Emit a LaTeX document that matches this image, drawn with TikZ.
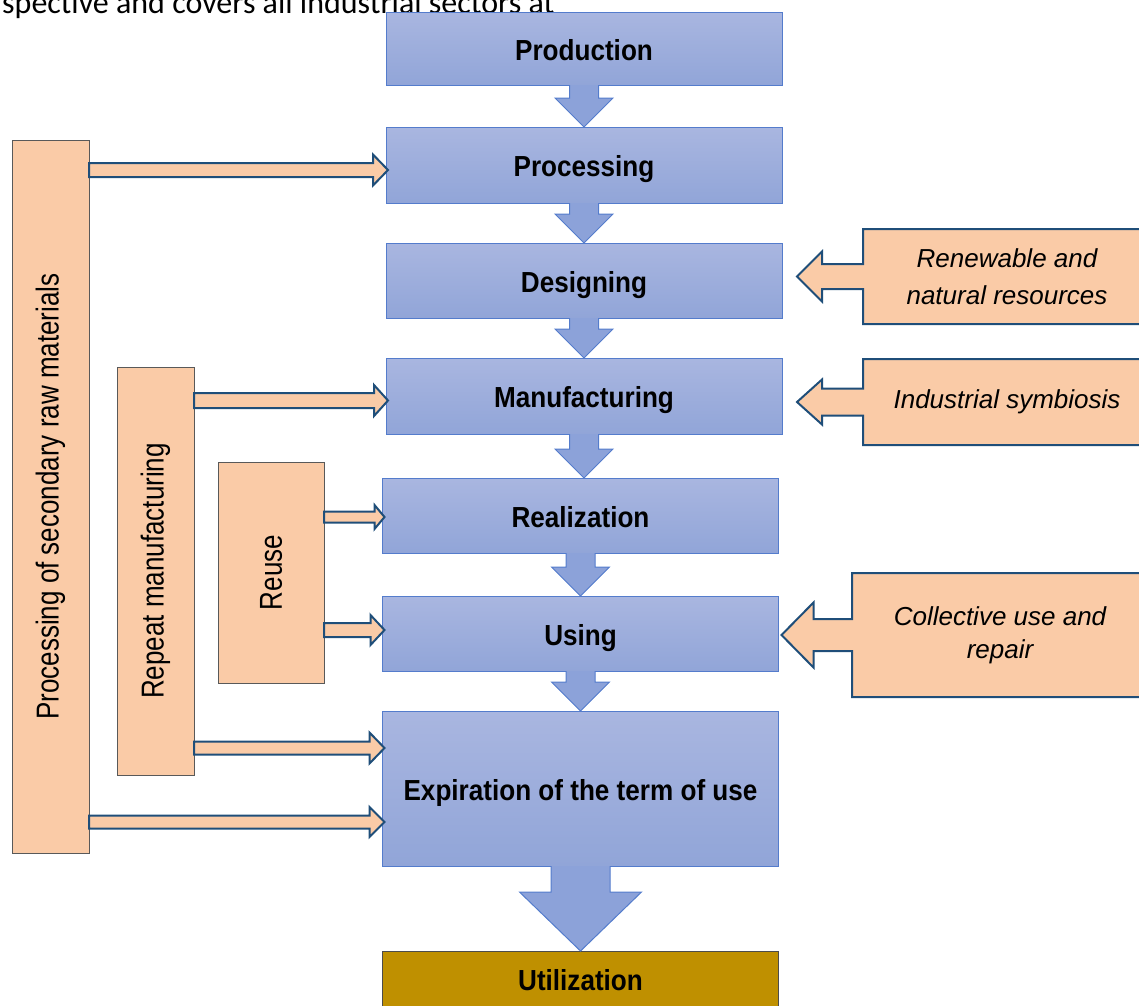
\documentclass[tikz,border=0pt]{standalone}
\usepackage{fontspec}
\setmainfont{Liberation Sans}
\newfontfamily\boxfont[FakeStretch=0.9]{Liberation Sans}
\newfontfamily\sidefont[FakeStretch=0.82]{Liberation Sans}
\newfontfamily\introfont{Carlito}
\usetikzlibrary{positioning, calc}

\definecolor{peach}{RGB}{250,203,167}
\definecolor{navyline}{RGB}{31,78,121}
\definecolor{boxtop}{RGB}{169,182,224}
\definecolor{boxbot}{RGB}{145,165,216}
\definecolor{boxedge}{RGB}{84,124,204}
\definecolor{flowfill}{RGB}{140,162,217}
\definecolor{gold}{RGB}{191,144,0}

% blue arrow between two stages
\newcommand{\flowarrow}[5]{%
  \draw[flow] let \p1=(#1.south), \p2=(#2.north) in
    ({\x1-#3},{\y1}) -- ({\x1-#3},{\y2+#5}) -- ({\x1-#4},{\y2+#5}) -- ({\x1},{\y2})
    -- ({\x1+#4},{\y2+#5}) -- ({\x1+#3},{\y2+#5}) -- ({\x1+#3},{\y1});
}
% orange arrow from a side box into a stage
\newcommand{\feedarrow}[6]{%
  \draw[feed] let \p1=(#1.east), \p2=(#2.west) in
    ({\x1},{\y2-(#3)+#4}) -- ({\x2+2pt-#6},{\y2-(#3)+#4}) -- ({\x2+2pt-#6},{\y2-(#3)+#5})
    -- ({\x2+2pt},{\y2-(#3)}) -- ({\x2+2pt-#6},{\y2-(#3)-#5}) -- ({\x2+2pt-#6},{\y2-(#3)-#4})
    -- ({\x1},{\y2-(#3)-#4}) -- cycle;
}
% callout box on the right with its arrow
\newcommand{\sourcearrow}[6]{%
  \fill[peach] let \p1=(#1.west), \p2=(#2.east) in
    ({\x1+1pt},{\y1+#4}) -- ({\x2+#3+#6},{\y1+#4}) -- ({\x2+#3+#6},{\y1+#5}) -- ({\x2+#3},{\y1})
    -- ({\x2+#3+#6},{\y1-#5}) -- ({\x2+#3+#6},{\y1-#4}) -- ({\x1+1pt},{\y1-#4}) -- cycle;
  \draw[calloutline] let \p1=(#1.west), \p2=(#2.east) in
    (#1.north east) -- (#1.north west) -- ({\x1},{\y1+#4}) -- ({\x2+#3+#6},{\y1+#4})
    -- ({\x2+#3+#6},{\y1+#5}) -- ({\x2+#3},{\y1}) -- ({\x2+#3+#6},{\y1-#5})
    -- ({\x2+#3+#6},{\y1-#4}) -- ({\x1},{\y1-#4}) -- (#1.south west) -- (#1.south east);
}

\begin{document}
\begin{tikzpicture}[x=1pt, y=-1pt,
    node distance=40pt,
    stage/.style={rectangle, draw=boxedge, line width=1pt, top color=boxtop, bottom color=boxbot,
      minimum width=396pt, minimum height=75pt, outer sep=0pt, inner sep=0pt,
      text height=25pt, text depth=2pt,
      font=\boxfont\bfseries\fontsize{29}{34}\selectfont},
    sidebox/.style={rectangle, fill=peach, draw=black!65, line width=1pt, outer sep=0pt},
    sidetext/.style={rotate=90, font=\sidefont\fontsize{31.7}{36}\selectfont},
    source/.style={rectangle, fill=peach, minimum width=288pt, outer sep=0pt, align=center,
      font=\itshape\fontsize{26}{37}\selectfont},
    flow/.style={fill=flowfill, draw=boxedge, line width=1pt},
    feed/.style={fill=peach, draw=navyline, line width=2pt},
    calloutline/.style={draw=navyline, line width=2pt}
  ]
  \useasboundingbox (0,0) rectangle (1139,1005);
  \clip (0,0) rectangle (1139,1005);

  % cut-off line of text above the figure
  \node (intro) [anchor=base west, inner sep=0pt, font=\introfont\fontsize{32}{38}\selectfont]
    at (2,13) {spective and covers all industrial sectors at};

  % stages
  \node (prod) [stage, minimum height=73pt] at (584,48.5) {Production};
  \node (proc) [stage, minimum height=76pt, below=42pt of prod] {Processing};
  \node (design) [stage, below=of proc] {Designing};
  \node (manuf) [stage, minimum height=76pt, below=of design] {Manufacturing};
  \node (real) [stage, below=44pt of manuf, xshift=-3.5pt] {Realization};
  \node (use) [stage, below=43pt of real] {Using};
  \node (expire) [stage, minimum height=155pt, below=of use] {Expiration of the term of use};
  \node (util) [stage, draw=black!70, fill=gold, top color=gold, bottom color=gold,
    minimum height=55pt, below=85pt of expire] {Utilization};

  % arrows between stages
  \flowarrow{prod}{proc}{14.5pt}{29pt}{29pt}
  \flowarrow{proc}{design}{14.5pt}{29pt}{29pt}
  \flowarrow{design}{manuf}{14.5pt}{29pt}{29pt}
  \flowarrow{manuf}{real}{14.5pt}{29pt}{29pt}
  \flowarrow{real}{use}{14.5pt}{29pt}{29pt}
  \flowarrow{use}{expire}{14.5pt}{29pt}{29pt}
  \flowarrow{expire}{util}{29.5pt}{61pt}{59pt}

  % side loops on the left
  \node (secondary) [sidebox, minimum width=77pt, minimum height=713pt] at (50.5,496.5) {};
  \node (remanuf) [sidebox, minimum width=77pt, minimum height=408pt] at (155.5,571) {};
  \node (reuse) [sidebox, minimum width=106pt, minimum height=221pt] at (271,572.5) {};
  \node (secondary-text) [sidetext] at (secondary) {Processing of secondary raw materials};
  \node (remanuf-text) [sidetext] at (remanuf) {Repeat manufacturing};
  \node (reuse-text) [sidetext] at (reuse) {Reuse};

  \feedarrow{secondary}{proc}{5pt}{7pt}{15.5pt}{15pt}
  \feedarrow{remanuf}{manuf}{4.5pt}{7.5pt}{15.5pt}{14pt}
  \feedarrow{reuse}{real}{1.5pt}{5.5pt}{12pt}{10pt}
  \feedarrow{reuse}{use}{-3.5pt}{7pt}{15pt}{14pt}
  \feedarrow{remanuf}{expire}{-40.5pt}{6.5pt}{15.5pt}{15pt}
  \feedarrow{secondary}{expire}{33.5pt}{6.5pt}{15pt}{15pt}

  % inputs on the right
  \node (renew) [source, minimum height=95pt] at (1007,276.5) {Renewable and\\natural resources};
  \node (symb) [source, minimum height=86pt] at (1007,402) {Industrial symbiosis};
  \node (collect) [source, minimum width=296pt, minimum height=124pt,
    font=\itshape\fontsize{26}{33}\selectfont] at (1000,635) {Collective use and\\repair};

  \sourcearrow{renew}{design}{15pt}{12.5pt}{25pt}{25pt}
  \sourcearrow{symb}{manuf}{15pt}{13.5pt}{22.5pt}{25pt}
  \sourcearrow{collect}{use}{3pt}{16pt}{32.5pt}{32pt}
\end{tikzpicture}
\end{document}
